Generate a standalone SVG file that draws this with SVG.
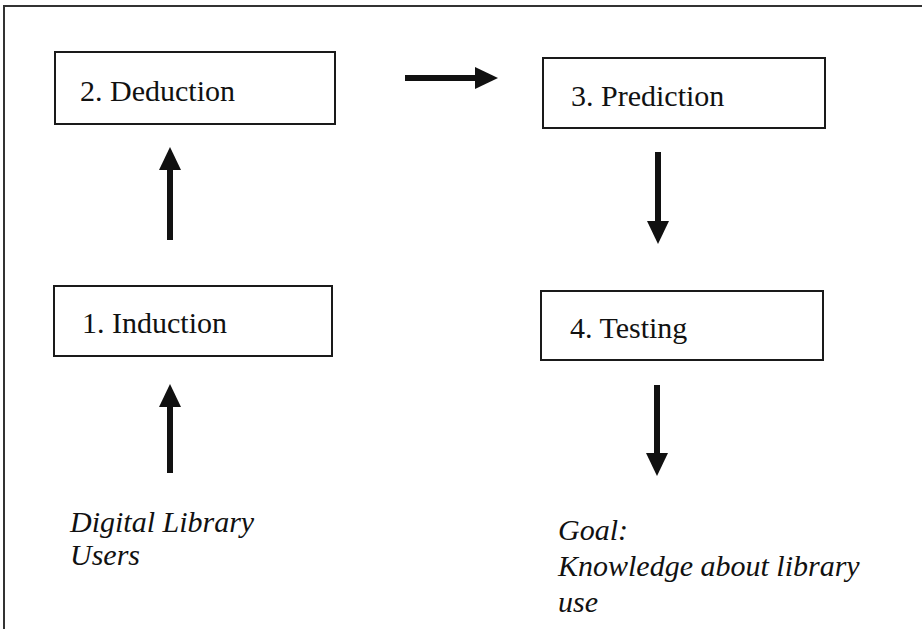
<svg xmlns="http://www.w3.org/2000/svg" width="922" height="629" viewBox="0 0 922 629">
<defs>
<style>
.box{fill:#fff;stroke:#1a1a1a;stroke-width:2}
.conn{stroke:#111;stroke-width:6;fill:none}
.head{fill:#111}
</style>
</defs>
<rect x="0" y="0" width="922" height="629" fill="#fff"/>
<path d="M4,629 V6 H922" fill="none" stroke="#333" stroke-width="2"/>
<g id="deduction">
<rect class="box" x="55" y="52" width="280" height="72"/>
<text x="80" y="101" font-family="Liberation Serif, serif" font-size="30" fill="#111">2. Deduction</text>
</g>
<g id="prediction">
<rect class="box" x="543" y="58" width="282" height="70"/>
<text x="571" y="106" font-family="Liberation Serif, serif" font-size="30" fill="#111">3. Prediction</text>
</g>
<g id="induction">
<rect class="box" x="54" y="286" width="278" height="70"/>
<text x="82" y="333" font-family="Liberation Serif, serif" font-size="30" fill="#111">1. Induction</text>
</g>
<g id="testing">
<rect class="box" x="541" y="291" width="282" height="69"/>
<text x="570" y="338" font-family="Liberation Serif, serif" font-size="30" fill="#111">4. Testing</text>
</g>
<g id="users">
<text x="70" y="532" font-family="Liberation Serif, serif" font-style="italic" font-size="30" fill="#111">Digital Library</text>
<text x="70" y="565" font-family="Liberation Serif, serif" font-style="italic" font-size="30" fill="#111">Users</text>
</g>
<g id="goal">
<text x="558" y="540" font-family="Liberation Serif, serif" font-style="italic" font-size="30" fill="#111">Goal:</text>
<text x="558" y="576" font-family="Liberation Serif, serif" font-style="italic" font-size="30" fill="#111">Knowledge about library</text>
<text x="558" y="612" font-family="Liberation Serif, serif" font-style="italic" font-size="30" fill="#111">use</text>
</g>
<g id="connectors">
<line class="conn" x1="170" y1="240" x2="170" y2="168"/>
<polygon class="head" points="170,147 159,170 181,170"/>
<line class="conn" x1="170" y1="473" x2="170" y2="405"/>
<polygon class="head" points="170,384 159,407 181,407"/>
<line class="conn" x1="405" y1="78" x2="478" y2="78"/>
<polygon class="head" points="498,78 475,67 475,89"/>
<line class="conn" x1="658" y1="152" x2="658" y2="224"/>
<polygon class="head" points="658,244 647,221 669,221"/>
<line class="conn" x1="657" y1="385" x2="657" y2="456"/>
<polygon class="head" points="657,476 646,453 668,453"/>
</g>
</svg>
